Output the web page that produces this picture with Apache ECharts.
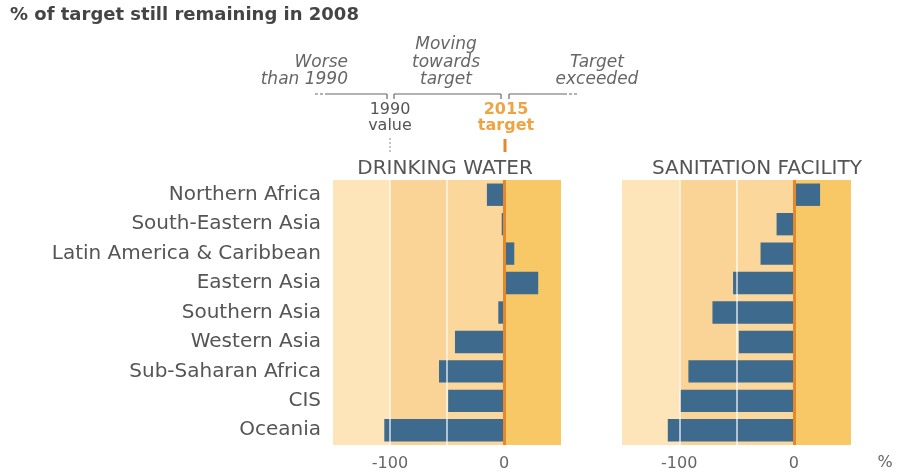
<!DOCTYPE html>
<html><head><meta charset="utf-8">
<script src="https://cdn.jsdelivr.net/npm/echarts@6/dist/echarts.min.js"></script>
<style>html,body{margin:0;padding:0;background:#fff}#c{width:903px;height:475px}</style>
</head><body><div id="c"></div>
<script>
const regions = ['Northern Africa','South-Eastern Asia','Latin America & Caribbean','Eastern Asia','Southern Asia','Western Asia','Sub-Saharan Africa','CIS','Oceania'];
const drinkingWater = [-15, -2, 9, 30, -5, -43, -57, -49, -105];
const sanitation = [23, -15, -29, -53, -71, -48, -92, -99, -110];
const shownTicks = [-100, 0];
const gridValues = [-100, -50];
const bandEdges = [-150, -100, -50, 0, 50];
const panelTitles = ['DRINKING WATER', 'SANITATION FACILITY'];
const chartTitle = '% of target still remaining in 2008';

const bandColors = ['#FDE5B9', '#FAD497', '#FBD79C', '#F8C866'];
const FONT = 'DejaVu Sans';
const GRAY = '#555';

const chart = echarts.init(document.getElementById('c'), null, {renderer: 'canvas'});

const grids = [
  {left: 333, top: 180, width: 228, height: 265},
  {left: 622, top: 180, width: 229, height: 265}
];

function bandData() {
  const out = [];
  for (let i = 0; i < bandEdges.length - 1; i++) {
    out.push([{xAxis: bandEdges[i], itemStyle: {color: bandColors[i]}}, {xAxis: bandEdges[i + 1]}]);
  }
  return out;
}

function panelSeries(idx, values) {
  return [
    {
      type: 'bar', xAxisIndex: idx, yAxisIndex: idx, data: values,
      barWidth: '76%', z: 2,
      itemStyle: {color: '#3E6A8E'},
      silent: true,
      markArea: {silent: true, z: 1, data: bandData(), itemStyle: {borderWidth: 0}},
      markLine: {
        silent: true, symbol: 'none', z: 5, label: {show: false},
        data: gridValues.map(v => ({xAxis: v, lineStyle: {color: 'rgba(255,255,255,0.8)', width: 1.5, type: 'solid'}}))
          .concat([{xAxis: 0, lineStyle: {color: '#E3882B', width: 3, type: 'solid'}}])
      }
    }
  ];
}

const txt = (x, y, text, extra) => Object.assign({type: 'text', x, y, style: Object.assign({text, font: `15px "${FONT}"`, fill: GRAY, textAlign: 'center', textVerticalAlign: 'middle'}, extra || {})});
const ln = (x1, y1, x2, y2, color, w, dash) => ({type: 'line', shape: {x1, y1, x2, y2}, style: {stroke: color || '#555', lineWidth: w || 1.2, lineDash: dash || null}});
const IT = `italic 17px "${FONT}"`;

const graphics = [
  txt(10, 15, chartTitle, {font: `bold 18px "${FONT}"`, fill: '#444', textAlign: 'left'}),
  txt(348, 63, 'Worse', {font: IT, fill: '#666', textAlign: 'right'}),
  txt(348, 80, 'than 1990', {font: IT, fill: '#666', textAlign: 'right'}),
  txt(446, 45, 'Moving', {font: IT, fill: '#666'}),
  txt(446, 63, 'towards', {font: IT, fill: '#666'}),
  txt(446, 80, 'target', {font: IT, fill: '#666'}),
  txt(597, 63, 'Target', {font: IT, fill: '#666'}),
  txt(597, 80, 'exceeded', {font: IT, fill: '#666'}),
  ln(315, 94, 328, 94, '#666', 1.2, [3, 2]),
  ln(328, 94, 387, 94, '#666'),
  ln(387, 94, 387, 99, '#666'),
  ln(394, 99, 394, 94, '#666'),
  ln(394, 94, 501, 94, '#666'),
  ln(501, 94, 501, 99, '#666'),
  ln(509, 99, 509, 94, '#666'),
  ln(509, 94, 564, 94, '#666'),
  ln(564, 94, 578, 94, '#666', 1.2, [3, 2]),
  txt(390, 110, '1990', {font: `16px "${FONT}"`}),
  txt(390, 126, 'value', {font: `16px "${FONT}"`}),
  ln(390, 138, 390, 152, '#888', 1, [2, 2]),
  txt(506, 110, '2015', {font: `bold 16px "${FONT}"`, fill: '#EFA443'}),
  txt(506, 126, 'target', {font: `bold 16px "${FONT}"`, fill: '#EFA443'}),
  ln(505, 139, 505, 152, '#E3882B', 3),
  txt(445, 169, panelTitles[0], {font: `20px "${FONT}"`}),
  txt(757, 169, panelTitles[1], {font: `20px "${FONT}"`}),
  txt(885, 463, '%', {font: `16px "${FONT}"`, fill: '#666'})
];

const xAxisBase = (idx) => ({
  type: 'value', gridIndex: idx, min: -150, max: 50, interval: 50,
  axisLine: {show: false}, axisTick: {show: false}, splitLine: {show: false},
  axisLabel: {
    color: '#666', fontSize: 16, fontFamily: FONT, margin: 11,
    formatter: v => shownTicks.includes(v) ? String(v) : ''
  }
});
const yAxisBase = (idx) => ({
  type: 'category', gridIndex: idx, data: regions, inverse: true,
  axisLine: {show: false}, axisTick: {show: false}, splitLine: {show: false},
  axisLabel: {show: idx === 0, color: GRAY, fontSize: 20, fontFamily: FONT, margin: 12}
});

chart.setOption({
  animation: false,
  backgroundColor: '#fff',
  grid: grids,
  xAxis: [xAxisBase(0), xAxisBase(1)],
  yAxis: [yAxisBase(0), yAxisBase(1)],
  series: panelSeries(0, drinkingWater).concat(panelSeries(1, sanitation)),
  graphic: graphics
});
</script></body></html>
